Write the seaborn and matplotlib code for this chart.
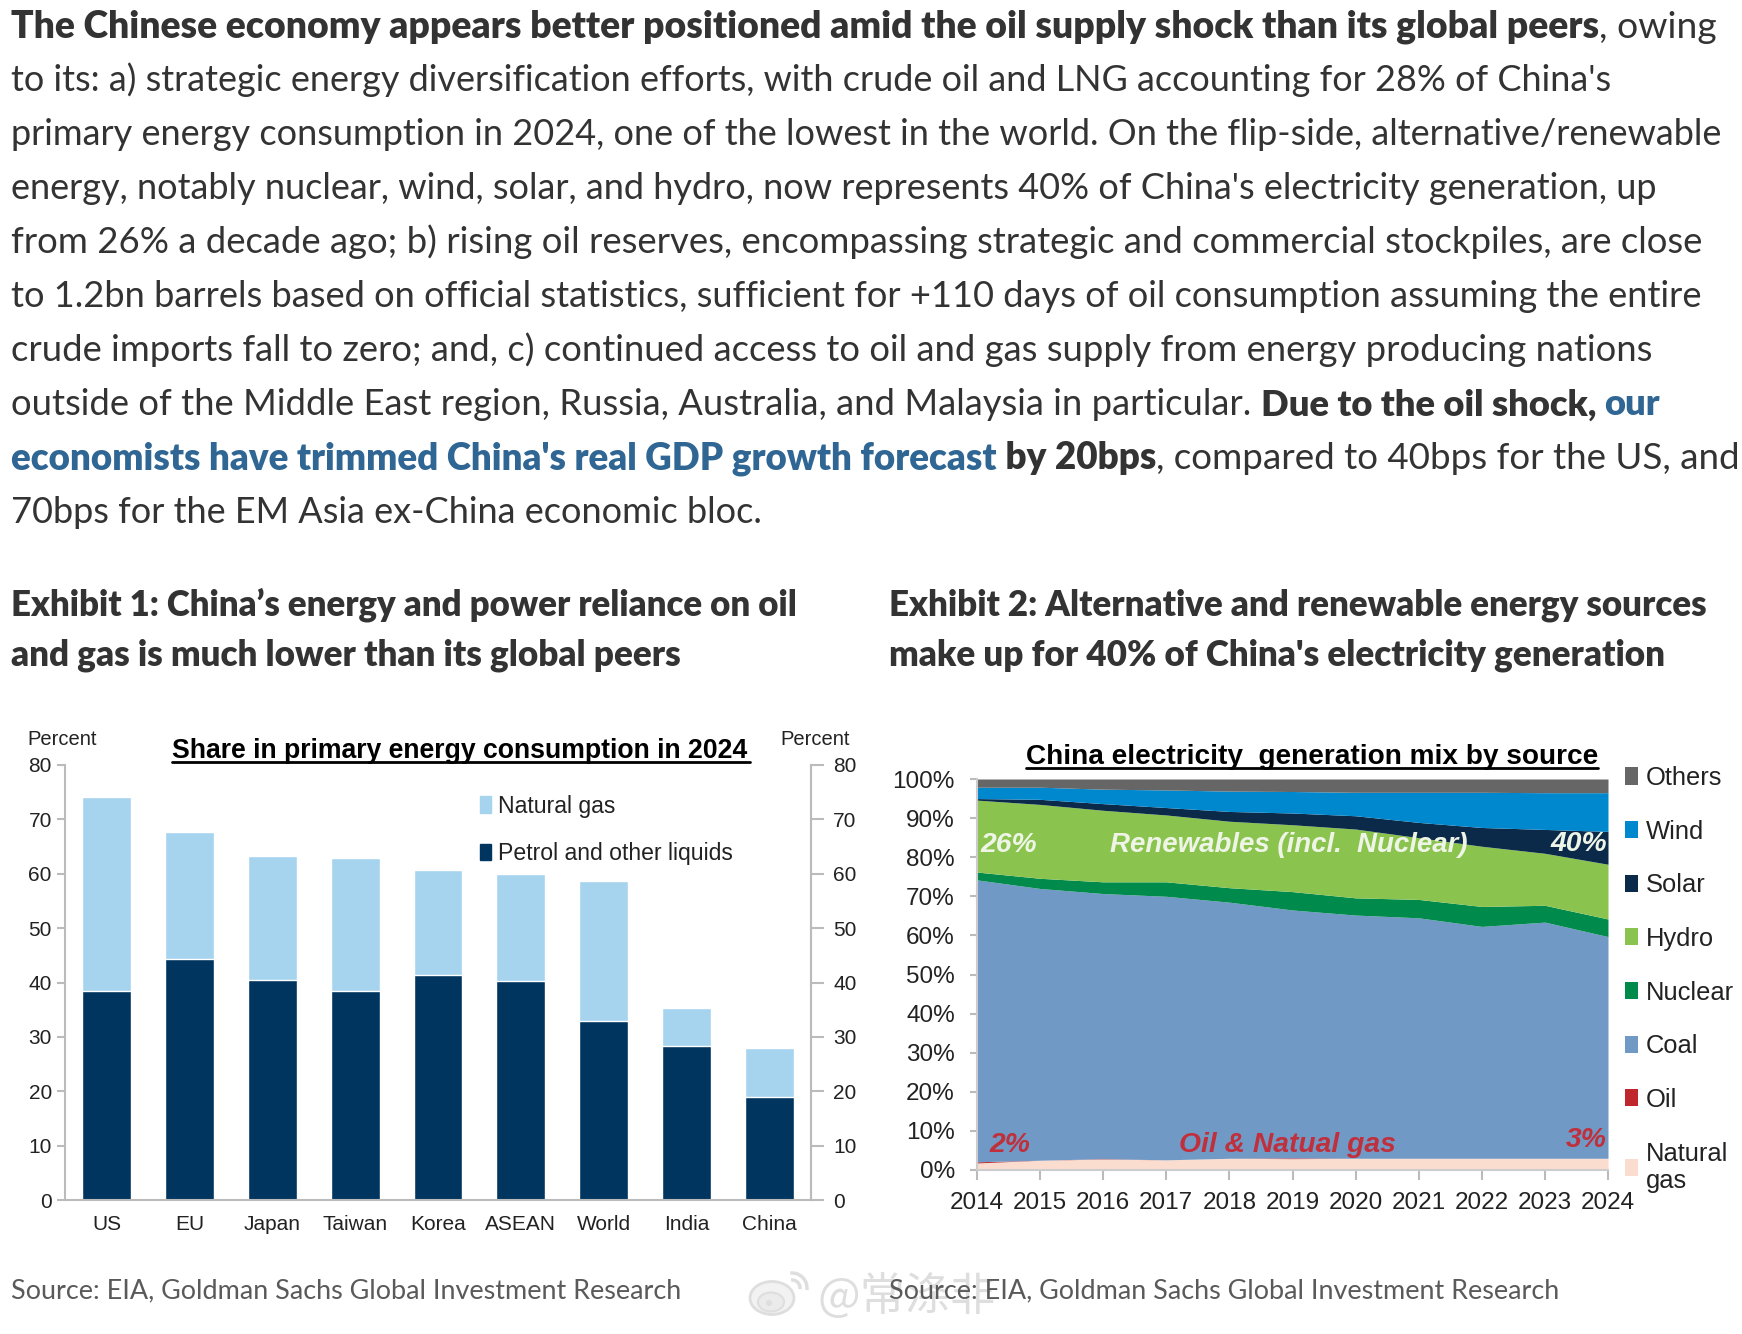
import matplotlib
matplotlib.use("Agg")
import matplotlib.pyplot as plt
from matplotlib.lines import Line2D
from matplotlib.patches import Patch, Ellipse, Arc
import pandas as pd
import seaborn as sns

W, H = 1742, 1334
BODY_FONT = "Lato"
CHART_FONT = "Liberation Sans"
BODY_COLOR = "#333333"
LINK_COLOR = "#2f6694"
SOURCE_COLOR = "#5a5a5a"
MARK_COLOR = "#dedede"

# paragraph, one list of (text, style) runs per line
body_lines = [
    [("The Chinese economy appears better positioned amid the oil supply shock than its global peers", "b"), (", owing", "r")],
    [("to its: a) strategic energy diversification efforts, with crude oil and LNG accounting for 28% of China's", "r")],
    [("primary energy consumption in 2024, one of the lowest in the world. On the flip-side, alternative/renewable", "r")],
    [("energy, notably nuclear, wind, solar, and hydro, now represents 40% of China's electricity generation, up", "r")],
    [("from 26% a decade ago; b) rising oil reserves, encompassing strategic and commercial stockpiles, are close", "r")],
    [("to 1.2bn barrels based on official statistics, sufficient for +110 days of oil consumption assuming the entire", "r")],
    [("crude imports fall to zero; and, c) continued access to oil and gas supply from energy producing nations", "r")],
    [("outside of the Middle East region, Russia, Australia, and Malaysia in particular. ", "r"), ("Due to the oil shock, ", "b"), ("our", "l")],
    [("economists have trimmed China's real GDP growth forecast", "l"), (" by 20bps", "b"), (", compared to 40bps for the US, and", "r")],
    [("70bps for the EM Asia ex-China economic bloc.", "r")],
]
line_widths = [1709, 1603, 1717, 1651, 1693, 1691, 1642, 1650, 1729, 752]
heading_1 = ["Exhibit 1: China\u2019s energy and power reliance on oil", "and gas is much lower than its global peers"]
heading_2 = ["Exhibit 2: Alternative and renewable energy sources", "make up for 40% of China's electricity generation"]
heading_1_widths = [787, 670]
heading_2_widths = [819, 777]
source_text = "Source: EIA, Goldman Sachs Global Investment Research"
watermark = "@常涤非"

# exhibit 1
countries = ["US", "EU", "Japan", "Taiwan", "Korea", "ASEAN", "World", "India", "China"]
petrol = [38.5, 44.3, 40.4, 38.5, 41.3, 40.3, 33.0, 28.4, 19.0]
nat_gas = [35.7, 23.4, 22.8, 24.4, 19.4, 19.6, 25.6, 7.0, 9.0]

# exhibit 2
years = [2014, 2015, 2016, 2017, 2018, 2019, 2020, 2021, 2022, 2023, 2024]
gas_share = [1.8, 2.5, 2.8, 2.6, 3.0, 2.9, 3.0, 3.0, 3.0, 3.0, 3.0]
oil_share = [0.3, 0.0, 0.1, 0.0, 0.0, 0.2, 0.0, 0.0, 0.0, 0.0, 0.0]
coal_share = [72.1, 69.5, 67.8, 67.4, 65.5, 63.4, 62.2, 61.5, 59.3, 60.4, 56.7]
nuclear_share = [2.0, 2.6, 3.0, 3.7, 3.7, 4.7, 4.4, 4.7, 5.1, 4.3, 4.5]
hydro_share = [18.4, 18.9, 18.3, 17.1, 17.0, 17.1, 17.6, 15.8, 15.4, 13.3, 14.0]
solar_share = [0.4, 1.3, 1.7, 1.9, 2.5, 3.0, 3.4, 3.9, 4.8, 6.1, 8.4]
wind_share = [2.9, 3.1, 3.7, 4.5, 5.2, 5.5, 6.0, 7.7, 9.0, 9.4, 9.9]
other_share = [2.1, 2.1, 2.6, 2.8, 3.1, 3.2, 3.4, 3.4, 3.4, 3.5, 3.5]
mix_labels = ["Natural\ngas", "Oil", "Coal", "Nuclear", "Hydro", "Solar", "Wind", "Others"]
mix_colors = ["#fbddcf", "#c0272d", "#7099c5", "#008a4b", "#8bc34f", "#0b2a4a", "#0088cf", "#666666"]

sns.set_theme(style="white", rc={"font.family": CHART_FONT})
fig = plt.figure(figsize=(W / 100, H / 100), dpi=100, facecolor="white")


def px_axes(left, top, right, bottom):
    return fig.add_axes([left / W, 1 - bottom / H, (right - left) / W, (bottom - top) / H])


def fig_text(x, y, s, **kw):
    return fig.text(x / W, 1 - y / H, s, **kw)


def underline(x0, x1, y):
    fig.add_artist(Line2D([x0 / W, x1 / W], [1 - y / H, 1 - y / H], color="black", lw=2))


def draw_runs(runs, x, y, target):
    styles = {"r": (400, BODY_COLOR), "b": (800, BODY_COLOR), "l": (800, LINK_COLOR), "s": (400, SOURCE_COLOR)}
    # the original font is a bit narrower, so each line gets fitted to its width
    renderer = fig.canvas.get_renderer()
    size = 24.0
    total = 0
    for s, st in runs:
        t = fig_text(0, 0, s.replace(" ", "\u00a0"), fontsize=size, family=BODY_FONT, fontweight=styles[st][0])
        total += t.get_window_extent(renderer).width
        t.remove()
    size = size * target / total
    for s, st in runs:
        t = fig_text(x, y, s.replace(" ", "\u00a0"), fontsize=size, family=BODY_FONT, fontweight=styles[st][0],
                     color=styles[st][1], va="baseline", zorder=3)
        x += t.get_window_extent(renderer).width


for i, runs in enumerate(body_lines):
    draw_runs(runs, 11, 37.5 + i * 53.97, line_widths[i])

for i in range(2):
    draw_runs([(heading_1[i], "b")], 11, 615 + i * 50.5, heading_1_widths[i])
    draw_runs([(heading_2[i], "b")], 889, 615 + i * 50.5, heading_2_widths[i])

draw_runs([(source_text, "s")], 11, 1298, 671)
draw_runs([(source_text, "s")], 889, 1298, 671)

# --- exhibit 1 ---
ax1 = px_axes(65, 765, 811, 1200)
bars = pd.DataFrame({"country": countries, "petrol": petrol, "gas": nat_gas})
bars["total"] = bars["petrol"] + bars["gas"]
sns.barplot(data=bars, x="country", y="total", color="#a6d3ee", saturation=1, width=0.59, ax=ax1)
sns.barplot(data=bars, x="country", y="petrol", color="#00355f", saturation=1, width=0.59, ax=ax1)
ax1.set_xlim(-0.5, 8.5)
ax1.set_ylim(0, 80)
ax1.set_xlabel("")
ax1.set_ylabel("")
ax1.tick_params(axis="x", length=0, labelsize=15, pad=11, colors="#222222")
ax1.set_yticks(range(0, 81, 10))
ax1.tick_params(axis="y", left=True, length=6, color="#bbbbbb", labelsize=15, labelcolor="#222222", width=1.5)
ax1.spines["top"].set_visible(False)
for side in ["left", "right", "bottom"]:
    ax1.spines[side].set_color("#bbbbbb")
    ax1.spines[side].set_linewidth(1.5)
ax1r = ax1.twinx()
ax1r.set_ylim(0, 80)
ax1r.set_yticks(range(0, 81, 10))
ax1r.grid(False)
ax1r.tick_params(axis="y", right=True, length=9, color="#bbbbbb", labelsize=15, labelcolor="#222222", width=1.5, pad=7)
ax1r.spines["top"].set_visible(False)
ax1r.spines["left"].set_visible(False)
ax1r.spines["bottom"].set_visible(False)
ax1r.spines["right"].set_color("#bbbbbb")
ax1r.spines["right"].set_linewidth(1.5)
fig_text(27, 745, "Percent", fontsize=14.5, color="#222222")
fig_text(780, 745, "Percent", fontsize=14.5, color="#222222")
fig_text(172, 758, "Share in primary energy consumption in 2024", fontsize=19.2, fontweight="bold", color="black")
underline(172, 750, 762)
ax1.legend(handles=[Patch(color="#a6d3ee", label="Natural gas"), Patch(color="#00355f", label="Petrol and other liquids")],
           loc="upper left", bbox_to_anchor=(0.556, 0.932), frameon=False, fontsize=16.6, handlelength=0.5,
           handleheight=0.7, handletextpad=0.3, labelspacing=1.07, borderpad=0, borderaxespad=0, labelcolor="#222222")

# --- exhibit 2 ---
ax2 = px_axes(977, 779, 1608, 1170)
ax2.stackplot(years, gas_share, oil_share, coal_share, nuclear_share, hydro_share, solar_share, wind_share, other_share,
              colors=mix_colors, labels=mix_labels, lw=0)
ax2.set_xlim(2014, 2024)
ax2.set_ylim(0, 100)
ax2.set_xticks(years)
ax2.set_yticks(range(0, 101, 10))
ax2.set_yticklabels([f"{v}%" for v in range(0, 101, 10)])
ax2.tick_params(axis="both", labelsize=17.5, labelcolor="#222222", color="#bbbbbb", width=1.5)
ax2.tick_params(axis="x", bottom=True, length=7, pad=8.5)
ax2.tick_params(axis="y", left=True, length=5, pad=11)
for side in ["top", "right"]:
    ax2.spines[side].set_visible(False)
for side in ["left", "bottom"]:
    ax2.spines[side].set_color("#cccccc")
    ax2.spines[side].set_linewidth(1.5)
fig_text(1026, 764, "China electricity  generation mix by source", fontsize=20.2, fontweight="bold", color="black")
underline(1026, 1598, 768)
handles, labels = ax2.get_legend_handles_labels()
fig.legend(handles[::-1], labels[::-1], loc="upper left", bbox_to_anchor=(1625 / W, 1 - 766 / H), frameon=False,
           fontsize=18.4, handlelength=0.5, handleheight=0.65, handletextpad=0.3, labelspacing=1.16, borderpad=0,
           borderaxespad=0, labelcolor="#222222")
white = "#eef5e6"
red = "#c0303c"
note = dict(fontstyle="italic", fontweight="bold", va="center")
ax2.text(2014.06, 83, "26%", color=white, ha="left", fontsize=20.3, **note)
ax2.text(2016.1, 83, "Renewables (incl.  Nuclear)", color=white, ha="left", fontsize=19.9, **note)
ax2.text(2023.98, 83.5, "40%", color=white, ha="right", fontsize=20.3, **note)
ax2.text(2014.2, 6.5, "2%", color=red, ha="left", fontsize=20.3, **note)
ax2.text(2017.2, 6.5, "Oil & Natual gas", color=red, ha="left", fontsize=20.3, **note)
ax2.text(2023.98, 7.8, "3%", color=red, ha="right", fontsize=20.3, **note)

# watermark sits under the source line like in the original
fig_text(817, 1310, watermark, fontsize=32.5, family=["Noto Sans CJK SC", "DejaVu Sans"], color=MARK_COLOR, zorder=1)
logo = dict(transform=fig.transFigure, zorder=1)
fig.add_artist(Ellipse((772 / W, 1 - 1298 / H), 44 / W, 33 / H, angle=0, fc="#f2f2f2", ec=MARK_COLOR, lw=2, **logo))
fig.add_artist(Ellipse((771 / W, 1 - 1302 / H), 26 / W, 19 / H, fc="#ebebeb", ec=MARK_COLOR, lw=1.5, **logo))
fig.add_artist(Ellipse((769 / W, 1 - 1303 / H), 6 / W, 6 / H, fc=MARK_COLOR, ec="none", **logo))
fig.add_artist(Arc((792 / W, 1 - 1288 / H), 30 / W, 30 / H, theta1=-10, theta2=95, ec=MARK_COLOR, lw=2.5, **logo))
fig.add_artist(Arc((792 / W, 1 - 1288 / H), 16 / W, 16 / H, theta1=-10, theta2=95, ec=MARK_COLOR, lw=2.5, **logo))

fig.savefig("out.png", dpi=100, facecolor="white")
